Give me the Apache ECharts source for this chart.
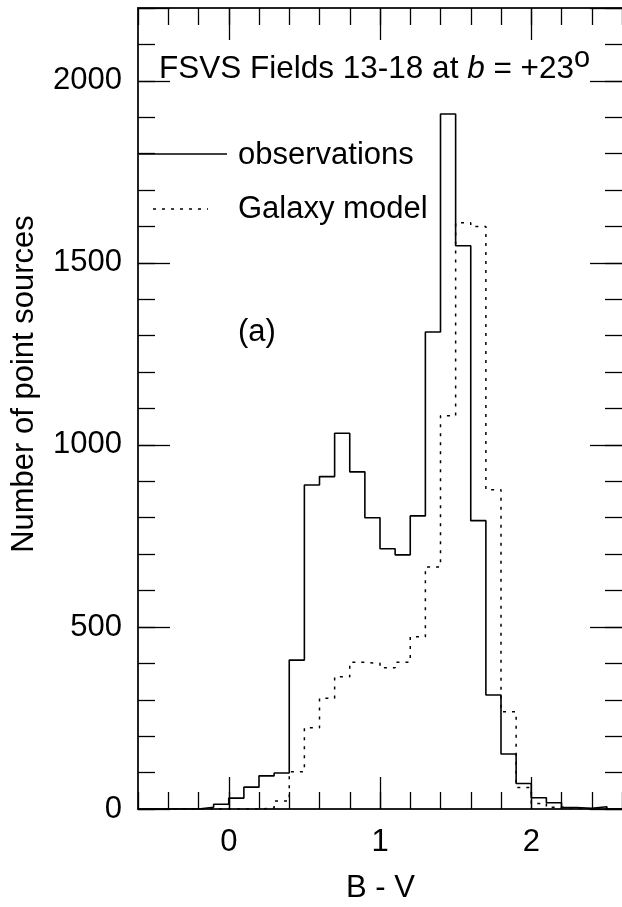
<!DOCTYPE html>
<html>
<head>
<meta charset="UTF-8">
<title>FSVS B-V histogram</title>
<script type="text/javascript" src="https://cdn.jsdelivr.net/npm/echarts@6/dist/echarts.min.js"></script>
<style>
html,body{margin:0;padding:0;background:#fff;}
</style>
</head>
<body>
<div id="main" style="width:622px;height:907px"></div>

<script type="text/javascript">
// bin edges (B - V), bins are 0.1 wide
var binEdges = [-0.6,-0.5,-0.4,-0.3,-0.2,-0.1,0.0,0.1,0.2,0.3,0.4,0.5,0.6,0.7,0.8,0.9,
                1.0,1.1,1.2,1.3,1.4,1.5,1.6,1.7,1.8,1.9,2.0,2.1,2.2,2.3,2.4,2.5,2.6];
// counts per bin
var observations = [0,0,0,0,5,13,30,60,91,99,409,890,913,1032,926,800,
                    715,698,805,1310,1909,1547,792,313,151,70,31,17,4,2,6,0];
var galaxyModel = [0,0,0,0,0,0,0,0,3,22,102,223,304,363,403,400,
                   388,403,473,665,1080,1610,1600,877,267,59,15,5,2,0,0,0];
var xTickLabels = ['0','1','2'];
var yTickLabels = ['0','500','1000','1500','2000'];

var FONT = "'Liberation Sans', Arial, Helvetica, sans-serif";

// step line needs a point at each left edge + one at the last right edge
function toSteps(vals){
  var out = [];
  for(var i=0;i<vals.length;i++){ out.push([binEdges[i], vals[i]]); }
  out.push([binEdges[vals.length], vals[vals.length-1]]);
  return out;
}

var mychart = echarts.init(document.getElementById("main"), null, {renderer:'canvas'});

var minorTick = {show:true, inside:true, length:17, lineStyle:{color:'#000', width:1.3}};
var majorTick = {show:true, inside:true, length:32, lineStyle:{color:'#000', width:1.3}};
var frame = {show:true, onZero:false, lineStyle:{color:'#222', width:2}};
var noLine = {show:false, onZero:false};

var option = {
  animation:false,
  backgroundColor:'#fff',
  grid:[
    {left:138, right:0, top:8, bottom:98},
    // same plot area but only the 0..2 span, used for the major x ticks
    {left:228.75, right:90.75, top:8, bottom:98}
  ],
  xAxis:[
    {gridIndex:0, type:'value', position:'bottom', min:-0.6, max:2.6, interval:0.2,
     axisLine:frame, axisTick:minorTick, axisLabel:{show:false}, splitLine:{show:false}},
    {gridIndex:0, type:'value', position:'top', min:-0.6, max:2.6, interval:0.2,
     axisLine:frame, axisTick:minorTick, axisLabel:{show:false}, splitLine:{show:false}},
    {gridIndex:1, type:'value', position:'bottom', min:0, max:2, interval:1,
     axisLine:noLine, axisTick:majorTick, splitLine:{show:false},
     axisLabel:{show:true, margin:18, color:'#000', fontSize:31, fontFamily:FONT,
       formatter:function(v){ return xTickLabels[Math.round(v)] || ''; }}},
    {gridIndex:1, type:'value', position:'top', min:0, max:2, interval:1,
     axisLine:noLine, axisTick:majorTick, axisLabel:{show:false}, splitLine:{show:false}}
  ],
  yAxis:[
    {gridIndex:0, type:'value', position:'left', min:0, max:2200, interval:100,
     axisLine:frame, axisTick:minorTick, axisLabel:{show:false}, splitLine:{show:false}},
    {gridIndex:0, type:'value', position:'left', min:0, max:2200, interval:500,
     axisLine:noLine, axisTick:majorTick, splitLine:{show:false},
     axisLabel:{show:true, margin:16, color:'#000', fontSize:31, fontFamily:FONT,
       formatter:function(v){ return v % 500 === 0 ? yTickLabels[v/500] : ''; }}},
    {gridIndex:0, type:'value', position:'right', min:0, max:2200, interval:100,
     axisLine:noLine, axisTick:minorTick, axisLabel:{show:false}, splitLine:{show:false}},
    {gridIndex:0, type:'value', position:'right', min:0, max:2200, interval:500,
     axisLine:noLine, axisTick:majorTick, axisLabel:{show:false}, splitLine:{show:false}},
    // helper y axis for the second grid, not drawn
    {gridIndex:1, type:'value', min:0, max:2200, show:false}
  ],
  series:[
    {name:'observations', type:'line', step:'end', xAxisIndex:0, yAxisIndex:0,
     symbol:'none', data:toSteps(observations),
     lineStyle:{color:'#000', width:1.6, type:'solid'}},
    {name:'Galaxy model', type:'line', step:'end', xAxisIndex:0, yAxisIndex:0,
     symbol:'none', data:toSteps(galaxyModel),
     lineStyle:{color:'#000', width:1.5, type:[3,6]}}
  ],
  graphic:[
    // title
    {type:'text', left:159, top:44, z:100,
     style:{text:'{n|FSVS Fields 13-18 at }{i|b}{n| = +23}{s|o}', fill:'#000',
       rich:{
         n:{fontSize:31.5, fontFamily:FONT, fill:'#000'},
         i:{fontSize:31.5, fontFamily:FONT, fontStyle:'italic', fill:'#000'},
         s:{fontSize:29, fontFamily:FONT, fill:'#000', padding:[0,0,22,0]}
       }}},
    // legend
    {type:'line', shape:{x1:138, y1:154, x2:227, y2:154}, style:{stroke:'#000', lineWidth:1.6}},
    {type:'text', x:238, y:155, style:{text:'observations', fontSize:31, fontFamily:FONT,
      fill:'#000', verticalAlign:'middle'}},
    {type:'line', shape:{x1:153, y1:209, x2:208, y2:209}, style:{stroke:'#000', lineWidth:1.5, lineDash:[3,6]}},
    {type:'text', x:238, y:209.5, style:{text:'Galaxy model', fontSize:31, fontFamily:FONT,
      fill:'#000', verticalAlign:'middle'}},
    // panel tag
    {type:'text', x:238, y:332, style:{text:'(a)', fontSize:31, fontFamily:FONT,
      fill:'#000', verticalAlign:'middle'}},
    // axis names
    {type:'text', x:380.5, y:888, style:{text:'B - V', fontSize:31, fontFamily:FONT,
      fill:'#000', align:'center', verticalAlign:'middle'}},
    {type:'text', x:24, y:384, rotation:Math.PI/2, style:{text:'Number of point sources',
      fontSize:31, fontFamily:FONT, fill:'#000', align:'center', verticalAlign:'middle'}}
  ]
};

mychart.setOption(option);
</script>
</body>
</html>
